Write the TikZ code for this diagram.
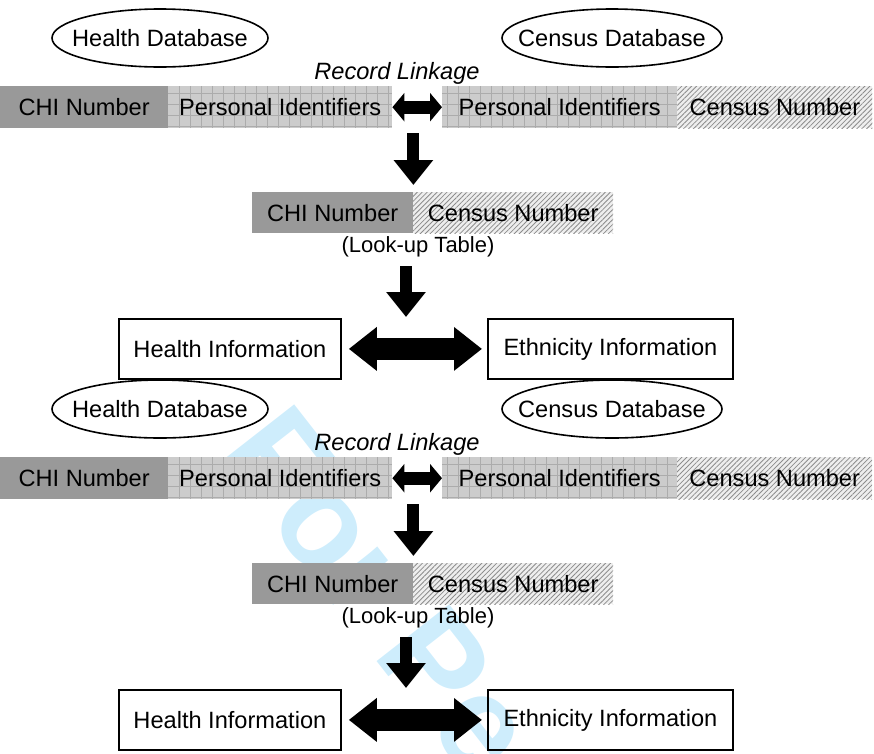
\documentclass[tikz,border=0pt]{standalone}
\usepackage{fontspec}
\setmainfont{Liberation Sans}
\usetikzlibrary{arrows.meta,patterns.meta}

\definecolor{chigray}{RGB}{153,153,153}
\definecolor{idgray}{RGB}{204,204,204}
\definecolor{gridgray}{RGB}{172,172,172}
\definecolor{hatchgray}{RGB}{140,140,140}
\definecolor{hatchbg}{RGB}{238,238,238}
\definecolor{wmblue}{RGB}{206,237,252}

\begin{document}
\begin{tikzpicture}[x=1pt,y=-1pt,
	font=\fontsize{23.6}{28}\selectfont,
	dbase/.style={inner sep=0pt},
	dbline/.style={line width=1.6pt},
	cell/.style={anchor=north west,inner sep=0pt,minimum height=41pt},
	chicell/.style={cell,fill=chigray},
	idcell/.style={cell,fill=idgray,path picture={\draw[gridgray,line width=0.6pt,step=11pt] (path picture bounding box.south west) grid (path picture bounding box.north east);}},
	cencell/.style={cell,preaction={fill=hatchbg},pattern={Lines[angle=45,distance=3.5pt,line width=0.8pt]},pattern color=hatchgray},
	infobox/.style={anchor=north west,draw,line width=1.8pt,minimum height=60pt,inner sep=0pt},
	downarrow/.style={line width=12pt,-{Triangle[width=38pt,length=25pt]}},
	linkarrow/.style={line width=13pt,{Triangle[width=28pt,length=12pt]}-{Triangle[width=28pt,length=12pt]}},
	bigarrow/.style={line width=22pt,{Triangle[width=42pt,length=28pt]}-{Triangle[width=42pt,length=28pt]}},
	wmark/.style={text=wmblue,font=\fontsize{134}{140}\selectfont\bfseries}]
	\useasboundingbox (0,0) rectangle (874,753);
	% watermark, cut off at the lower edge
	\begin{scope}
		\clip (0,0) rectangle (874,753);
		\node[wmark,anchor=base west,rotate=-52] (wm) at (214,452) {For Pe};
	\end{scope}
	% the same scheme twice, one below the other
	\foreach \dy/\s in {0/a,371/b}{
		\begin{scope}[shift={(0,\dy)}]
			\node[dbase] (hdb\s) at (160,38) {Health Database};
			\draw[dbline] (hdb\s) ellipse[x radius=108,y radius=29];
			\node[dbase] (cdb\s) at (612,38) {Census Database};
			\draw[dbline] (cdb\s) ellipse[x radius=110,y radius=29];
			\node[anchor=base,font=\fontsize{23.6}{28}\selectfont\itshape] (rl\s) at (397,79) {Record Linkage};
			\node[chicell,minimum width=168pt,minimum height=42pt] (chi\s) at (0,86) {CHI Number};
			\node[idcell,minimum width=224pt,minimum height=42pt] (pidl\s) at (168,86) {Personal Identifiers};
			\node[idcell,minimum width=235pt,minimum height=42pt] (pidr\s) at (442,86) {Personal Identifiers};
			\node[cencell,minimum width=195pt,minimum height=42pt] (cen\s) at (677,86) {Census Number};
			\draw[linkarrow] (pidl\s.east) -- (pidr\s.west);
			% look-up table
			\node[chicell,minimum width=161pt] (chil\s) at (252,192) {CHI Number};
			\node[cencell,minimum width=200pt] (cenl\s) at (413,192) {Census Number};
			\draw[downarrow,shorten <=5pt,shorten >=7pt] (chil\s.north east |- chi\s.south) -- (chil\s.north east);
			\node[font=\fontsize{22}{26}\selectfont] (lut\s) at (418,247) {(Look-up Table)};
			\node[infobox,minimum width=222pt] (hinf\s) at (118,318) {Health Information};
			\node[infobox,minimum width=245pt] (einf\s) at (487,318) {Ethnicity Information};
			\coordinate (d\s) at (406,266);
			\draw[downarrow,shorten >=1pt] (d\s) -- (d\s |- hinf\s.north);
			\draw[bigarrow,shorten <=7pt,shorten >=5pt] (hinf\s.east) -- (einf\s.west);
		\end{scope}
	}
\end{tikzpicture}
\end{document}
